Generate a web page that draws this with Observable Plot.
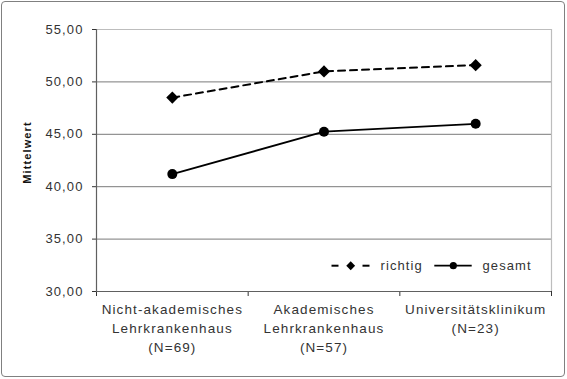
<!DOCTYPE html>
<html><head><meta charset="utf-8">
<script src="https://cdn.jsdelivr.net/npm/d3@7"></script>
<script src="https://cdn.jsdelivr.net/npm/@observablehq/plot@0.6"></script>
<style>
body{margin:0;background:#fff;}
#wrap{position:relative;width:567px;height:379px;overflow:hidden;font-family:"Liberation Sans",Arial,sans-serif;}
#chart{position:absolute;left:0;top:0;}
#frame{position:absolute;left:1px;top:1px;width:562px;height:374px;border:1.5px solid #808080;border-radius:4px;pointer-events:none;}
#legend{position:absolute;left:320px;top:250px;}
</style></head><body>
<div id="wrap"><div id="chart"></div><div id="legend"></div><div id="frame"></div></div>
<script>
const categories = ["Nicht-akademisches\nLehrkrankenhaus\n(N=69)", "Akademisches\nLehrkrankenhaus\n(N=57)", "Universitätsklinikum\n(N=23)"];
const richtig = [48.5, 51.0, 51.6];
const gesamt = [41.2, 45.25, 46.0];
const yTicks = [30, 35, 40, 45, 50, 55];
const seriesNames = ["richtig", "gesamt"];
const yLabel = "Mittelwert";

const rData = categories.map((c, i) => ({x: i + 0.5, y: richtig[i]}));
const gData = categories.map((c, i) => ({x: i + 0.5, y: gesamt[i]}));
const xLabels = categories.map((c, i) => ({x: i + 0.5, text: c}));
const xBounds = d3.range(categories.length + 1);

const chart = Plot.plot({
  width: 567,
  height: 379,
  marginLeft: 96,
  marginRight: 16,
  marginTop: 29,
  marginBottom: 88,
  style: {fontFamily: '"Liberation Sans", Arial, sans-serif', fontSize: "13px", color: "#333", letterSpacing: "1.1px", background: "white", overflow: "visible"},
  x: {domain: [0, categories.length], ticks: xBounds, tickFormat: () => "", tickSize: 5, label: null},
  y: {domain: [30, 55], ticks: yTicks, tickFormat: d => d.toFixed(2).replace(".", ","), tickSize: 4, tickPadding: 9, label: null},
  marks: [
    Plot.ruleY(yTicks.filter(d => d > 30 && d < 55), {stroke: "#7a7a7a", strokeWidth: 1}),
    Plot.ruleY([55], {stroke: "#bdbdbd", strokeWidth: 1.2}),
    Plot.ruleX([categories.length], {stroke: "#bdbdbd", strokeWidth: 1.2}),
    Plot.ruleX([0], {stroke: "#606060", strokeWidth: 1.2}),
    Plot.ruleY([30], {stroke: "#606060", strokeWidth: 1.2}),
    Plot.line(rData, {x: "x", y: "y", stroke: "black", strokeWidth: 2, strokeDasharray: "7,5"}),
    Plot.dot(rData, {x: "x", y: "y", symbol: "diamond2", r: 5.5, fill: "black", stroke: "none"}),
    Plot.line(gData, {x: "x", y: "y", stroke: "black", strokeWidth: 1.8}),
    Plot.dot(gData, {x: "x", y: "y", r: 5, fill: "black", stroke: "none"}),
    Plot.text(xLabels, {x: "x", text: "text", frameAnchor: "bottom", lineAnchor: "top", dy: 9, fontSize: 13.5, lineHeight: 1.4, fill: "#333", style: "letter-spacing:1.2px"}),
    Plot.text([yLabel], {text: d => d, frameAnchor: "left", textAnchor: "middle", rotate: -90, dx: -69, dy: -8, fontWeight: "bold", fontSize: 11, fill: "#111"})
  ]
});
document.getElementById("chart").appendChild(chart);

// legend
const lg = d3.select("#legend").append("svg").attr("width", 230).attr("height", 30)
  .style("font-family", '"Liberation Sans", Arial, sans-serif').style("font-size", "13px").style("letter-spacing", "1.1px");
const cy = 15.7;
lg.append("line").attr("x1", 11.5).attr("x2", 18.5).attr("y1", cy).attr("y2", cy).attr("stroke", "black").attr("stroke-width", 2);
lg.append("line").attr("x1", 42.5).attr("x2", 49.5).attr("y1", cy).attr("y2", cy).attr("stroke", "black").attr("stroke-width", 2);
lg.append("path").attr("d", d3.symbol(d3.symbolDiamond2, 50)()).attr("transform", `translate(30.7,${cy})`).attr("fill", "black");
lg.append("text").attr("x", 60.5).attr("y", cy + 4.6).attr("fill", "#333").text(seriesNames[0]);
lg.append("line").attr("x1", 114.3).attr("x2", 151.7).attr("y1", cy).attr("y2", cy).attr("stroke", "black").attr("stroke-width", 1.8);
lg.append("circle").attr("cx", 133.3).attr("cy", cy).attr("r", 3.6).attr("fill", "black");
lg.append("text").attr("x", 162.5).attr("y", cy + 4.6).attr("fill", "#333").text(seriesNames[1]);
</script>
</body></html>
